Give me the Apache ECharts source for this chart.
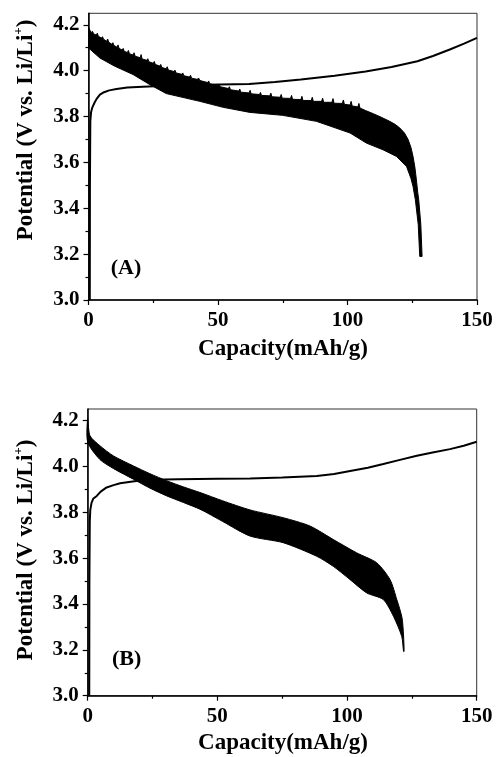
<!DOCTYPE html>
<html>
<head>
<meta charset="utf-8">
<script src="https://cdn.jsdelivr.net/npm/echarts@6/dist/echarts.min.js"></script>
<style>html,body{margin:0;padding:0;background:#fff;}#c{width:497px;height:757px;}</style>
</head>
<body>
<div id="c"></div>
<script>
// ---------- Data ----------
// Panel A : charge curve
const chargeA_cap = [0.5, 0.55, 0.7, 1.0, 1.5, 2.4, 3.2, 4.4, 6, 8, 10.8, 15, 21, 30, 45, 62, 72, 82, 95, 107, 117, 127, 133, 139.5, 145, 150];
const chargeA_pot = [3.0, 3.5, 3.78, 3.82, 3.84, 3.862, 3.878, 3.895, 3.906, 3.914, 3.92, 3.926, 3.93, 3.934, 3.938, 3.942, 3.95, 3.961, 3.978, 3.996, 4.016, 4.041, 4.064, 4.092, 4.118, 4.143];
// Panel A : discharge band (upper envelope with its noise spikes / lower envelope)
const dischA_upCap = [0, 1, 1.5, 2, 3, 3.4, 3.8, 5, 5.4, 5.8, 7, 7.4, 7.8, 9, 9.4, 9.8, 11, 11.4, 11.8, 13, 13.4, 13.8, 15, 15.4, 15.8, 17.2, 17.6, 18, 20, 20.3, 20.7, 22.5, 22.9, 23.3, 25, 25.4, 25.8, 27.5, 27.9, 28.3, 30, 30.4, 30.8, 33, 33.4, 33.8, 36, 36.4, 36.8, 39, 39.4, 39.8, 42, 42.5, 43, 46, 46.4, 46.8, 50, 50.4, 50.8, 54, 54.4, 54.8, 58, 58.4, 58.8, 62, 62.4, 62.8, 66, 66.4, 66.8, 70, 70.4, 70.8, 74, 74.4, 74.8, 78, 78.4, 78.8, 82, 82.4, 82.8, 86, 86.4, 86.8, 90, 90.4, 90.8, 94, 94.4, 94.8, 98, 98.4, 98.8, 101, 101.4, 101.8, 104, 104.4, 104.8, 107, 110, 113, 116.3, 118.5, 120.2, 122, 123.4, 124.5, 125.3, 126, 126.6, 127.1, 127.5, 128.3, 128.8];
const dischA_upPot = [4.19, 4.165, 4.172, 4.16, 4.155, 4.163, 4.15, 4.142, 4.148, 4.137, 4.128, 4.138, 4.124, 4.115, 4.122, 4.11, 4.102, 4.112, 4.097, 4.09, 4.097, 4.084, 4.079, 4.088, 4.074, 4.068, 4.078, 4.063, 4.056, 4.07, 4.051, 4.045, 4.052, 4.039, 4.032, 4.04, 4.027, 4.02, 4.027, 4.014, 4.008, 4.017, 4.003, 3.996, 4.002, 3.99, 3.984, 3.99, 3.978, 3.972, 3.98, 3.967, 3.962, 3.968, 3.957, 3.948, 3.955, 3.943, 3.935, 3.942, 3.93, 3.922, 3.93, 3.917, 3.911, 3.92, 3.906, 3.903, 3.914, 3.899, 3.896, 3.905, 3.892, 3.89, 3.902, 3.886, 3.884, 3.896, 3.88, 3.879, 3.892, 3.875, 3.874, 3.888, 3.87, 3.87, 3.884, 3.866, 3.866, 3.88, 3.862, 3.862, 3.878, 3.858, 3.857, 3.872, 3.853, 3.85, 3.866, 3.846, 3.842, 3.857, 3.837, 3.826, 3.812, 3.797, 3.779, 3.765, 3.75, 3.728, 3.70, 3.665, 3.626, 3.58, 3.524, 3.47, 3.437, 3.33, 3.19];
const dischA_loCap = [0, 4.4, 10, 17.2, 23.7, 30, 43, 52, 62.3, 75, 88, 101, 107.3, 113.7, 118.9, 122.8, 124.5, 125.3, 126.2, 127.3, 127.9];
const dischA_loPot = [4.099, 4.055, 4.02, 3.983, 3.939, 3.90, 3.866, 3.84, 3.818, 3.805, 3.779, 3.728, 3.684, 3.655, 3.626, 3.582, 3.53, 3.495, 3.437, 3.33, 3.19];

// Panel B : charge curve
const chargeB_cap = [0.6, 0.65, 0.8, 1.0, 1.5, 2.2, 3.5, 5, 7.3, 10, 12.5, 18, 24, 35, 50, 62.6, 75, 88.3, 95, 101.2, 108, 114, 120, 126.9, 133, 139.7, 145, 150];
const chargeB_pot = [3.0, 3.5, 3.76, 3.81, 3.842, 3.86, 3.871, 3.89, 3.908, 3.918, 3.926, 3.935, 3.941, 3.944, 3.946, 3.947, 3.951, 3.958, 3.967, 3.98, 3.994, 4.01, 4.027, 4.046, 4.06, 4.075, 4.09, 4.107];
// Panel B : discharge band
const dischB_upCap = [0, 0.9, 4.7, 10, 17.6, 24, 30.5, 37, 43.3, 52, 62.6, 75.4, 85.7, 94.7, 103.7, 111.5, 116.6, 119.2, 121.2, 121.8, 122];
const dischB_upPot = [4.207, 4.133, 4.09, 4.045, 4.002, 3.968, 3.937, 3.91, 3.886, 3.85, 3.81, 3.776, 3.74, 3.681, 3.623, 3.579, 3.506, 3.419, 3.34, 3.26, 3.193];
const dischB_loCap = [0, 4.7, 10, 17.6, 24, 30.5, 43.3, 52, 62.6, 75.4, 88.3, 94.7, 101.2, 107.6, 114, 117.9, 121.1, 121.8];
const dischB_loPot = [4.105, 4.03, 3.99, 3.944, 3.905, 3.871, 3.813, 3.76, 3.696, 3.667, 3.608, 3.564, 3.506, 3.448, 3.419, 3.346, 3.258, 3.193];

// Axis ticks / labels
const yMajor = [3.0, 3.2, 3.4, 3.6, 3.8, 4.0, 4.2];
const yMinor = [3.1, 3.3, 3.5, 3.7, 3.9, 4.1];
const xTitle = 'Capacity(mAh/g)';
const panelLabels = ['(A)', '(B)'];

// ---------- Build ----------
const FONT = '"Liberation Serif", "Times New Roman", serif';
const pairs = (xs, ys) => xs.map((x, i) => [x, ys[i]]);

function band(idx, ux, uy, lx, ly, smooth) {
  return {
    type: 'custom', xAxisIndex: idx, yAxisIndex: idx * 2, silent: true, z: 2,
    data: [[ux[0], uy[0]]],
    renderItem: function (params, api) {
      const pts = [];
      for (let i = 0; i < ux.length; i++) pts.push(api.coord([ux[i], uy[i]]));
      for (let i = lx.length - 1; i >= 0; i--) pts.push(api.coord([lx[i], ly[i]]));
      return { type: 'polygon', shape: { points: pts, smooth: smooth }, style: { fill: '#000', stroke: '#000', lineWidth: 1 } };
    }
  };
}
function chargeLine(idx, xs, ys) {
  return {
    type: 'line', xAxisIndex: idx, yAxisIndex: idx * 2, data: pairs(xs, ys),
    showSymbol: false, symbol: 'none', silent: true, z: 3,
    smooth: false,
    lineStyle: { color: '#000', width: 2 }
  };
}
function xAxis(idx) {
  return {
    type: 'value', gridIndex: idx, min: 0, max: 150, interval: 50,
    axisLine: { lineStyle: { color: '#000', width: 1.5 } },
    axisTick: { inside: false, length: 5, lineStyle: { color: '#000', width: 1.2 } },
    minorTick: { show: true, splitNumber: 2, length: 3, lineStyle: { color: '#000', width: 1.2 } },
    splitLine: { show: false },
    axisLabel: { fontFamily: FONT, fontWeight: 'bold', fontSize: 21, color: '#000', margin: 10 }
  };
}
function yAxes(idx) {
  return [{
    type: 'value', gridIndex: idx, min: 3.0, max: 4.25, position: 'left',
    axisLine: { show: true, lineStyle: { color: '#000', width: 1.5 } },
    axisTick: { show: true, inside: false, length: 5, customValues: yMajor, lineStyle: { color: '#000', width: 1.2 } },
    splitLine: { show: false },
    axisLabel: { customValues: yMajor, formatter: v => Number(v).toFixed(1), fontFamily: FONT, fontWeight: 'bold', fontSize: 21, color: '#000', margin: 9 }
  }, {
    type: 'value', gridIndex: idx, min: 3.0, max: 4.25, position: 'left',
    axisLine: { show: false },
    axisTick: { show: true, inside: false, length: 3, customValues: yMinor, lineStyle: { color: '#000', width: 1.2 } },
    splitLine: { show: false },
    axisLabel: { show: false }
  }];
}
function yTitle(cx, cy) {
  return {
    type: 'text', x: cx, y: cy, rotation: Math.PI / 2, z: 10,
    style: {
      text: '{a|Potential (V vs. Li/Li}{s|+}{a|)}',
      align: 'center', verticalAlign: 'middle',
      rich: {
        a: { fontFamily: FONT, fontWeight: 'bold', fontSize: 23, fill: '#000', lineHeight: 26, verticalAlign: 'bottom' },
        s: { fontFamily: FONT, fontWeight: 'bold', fontSize: 13, fill: '#000', lineHeight: 14, verticalAlign: 'top' }
      }
    }
  };
}
function txt(x, y, t, size) {
  return { type: 'text', x: x, y: y, z: 10, style: { text: t, fontFamily: FONT, fontWeight: 'bold', fontSize: size, fill: '#000', align: 'center', verticalAlign: 'middle' } };
}

const chart = echarts.init(document.getElementById('c'), null, { renderer: 'canvas' });
chart.setOption({
  backgroundColor: '#fff',
  animation: false,
  grid: [
    { left: 88.5, top: 13.3, width: 388.5, height: 286.7, show: true, borderColor: '#333', borderWidth: 1, backgroundColor: 'transparent' },
    { left: 87.7, top: 409, width: 389, height: 286.7, show: true, borderColor: '#333', borderWidth: 1, backgroundColor: 'transparent' }
  ],
  xAxis: [xAxis(0), xAxis(1)],
  yAxis: yAxes(0).concat(yAxes(1)),
  series: [
    band(0, dischA_upCap, dischA_upPot, dischA_loCap, dischA_loPot, 0),
    chargeLine(0, chargeA_cap, chargeA_pot),
    band(1, dischB_upCap, dischB_upPot, dischB_loCap, dischB_loPot, 0.25),
    chargeLine(1, chargeB_cap, chargeB_pot)
  ],
  graphic: [
    yTitle(25, 130),
    yTitle(25, 550),
    txt(283, 349, xTitle, 23),
    txt(283, 743, xTitle, 23),
    txt(126, 268, panelLabels[0], 22),
    txt(126.7, 659, panelLabels[1], 22)
  ]
});
</script>
</body>
</html>
